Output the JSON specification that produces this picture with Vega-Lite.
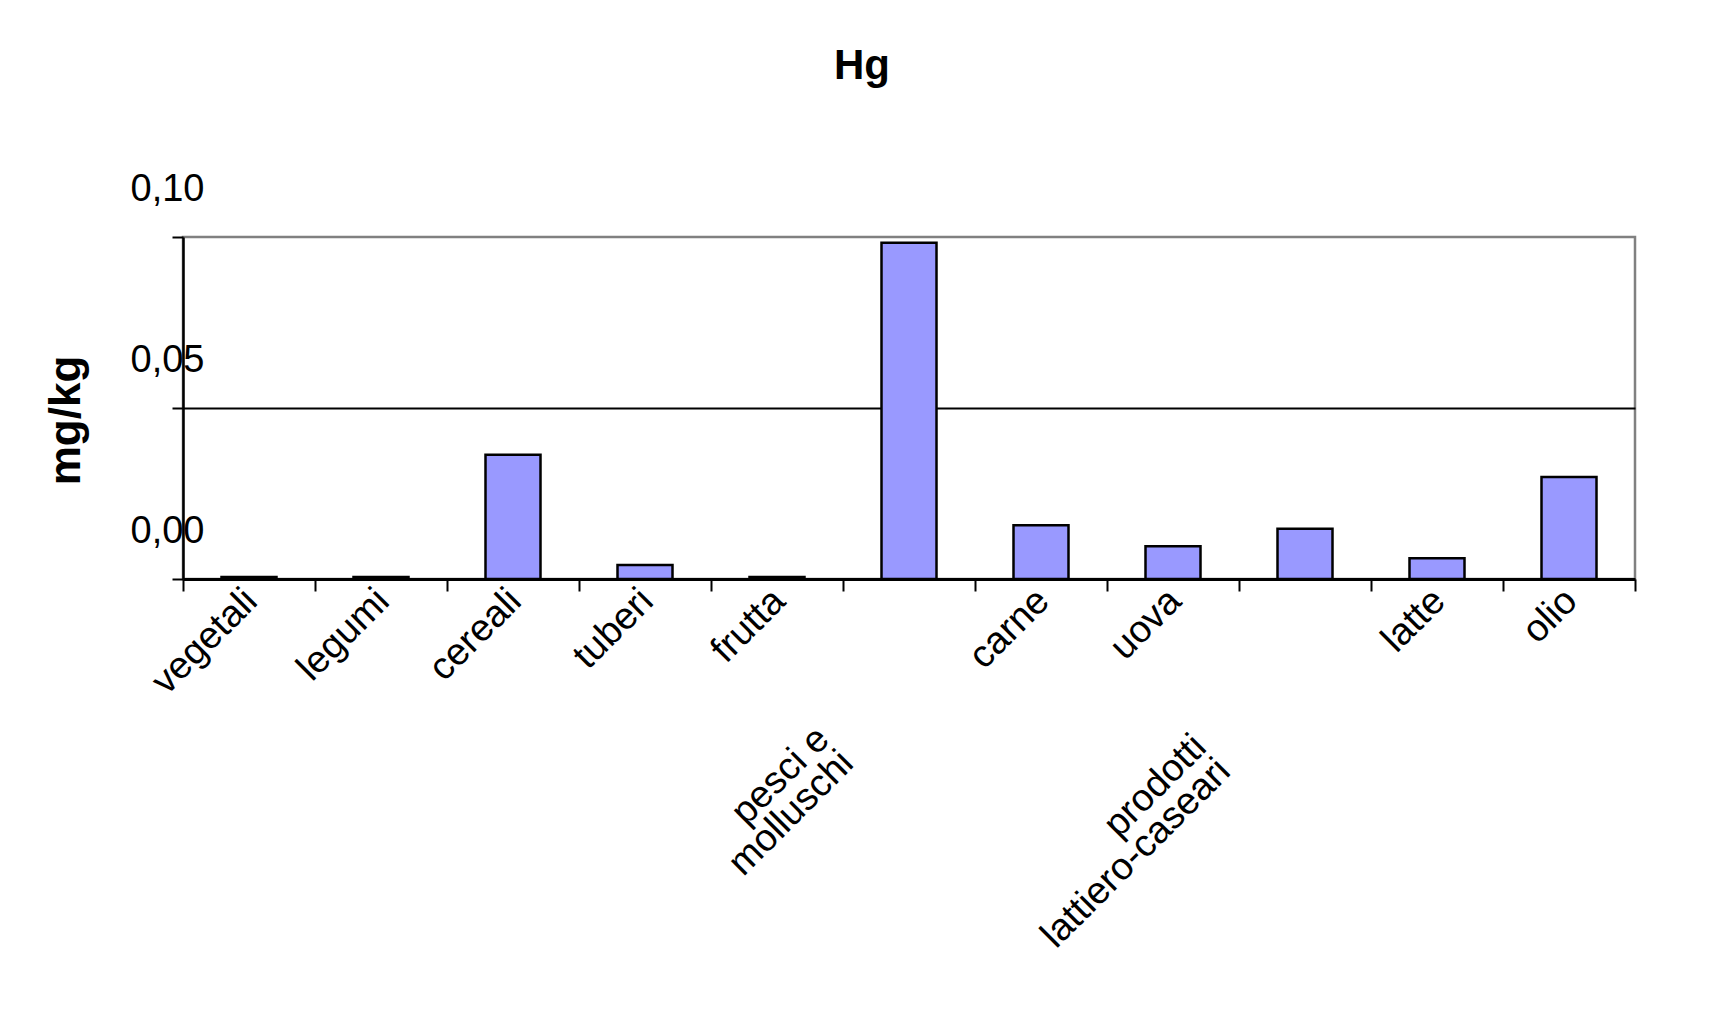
{
  "$schema": "https://vega.github.io/schema/vega-lite/v6.json",
  "autosize": {"type": "none"},
  "width": 1452,
  "height": 342,
  "padding": {"left": 183, "top": 237, "right": 88, "bottom": 433},
  "background": "#ffffff",
  "title": {
    "text": "Hg",
    "font": "Liberation Sans",
    "fontSize": 42,
    "fontWeight": "bold",
    "color": "#000000",
    "frame": "group",
    "anchor": "middle",
    "dx": -47,
    "offset": 82
  },
  "data": {
    "values": [
      {"categoria": "vegetali", "Hg": 0.0006},
      {"categoria": "legumi", "Hg": 0.0006},
      {"categoria": "cereali", "Hg": 0.0363},
      {"categoria": "tuberi", "Hg": 0.0041},
      {"categoria": "frutta", "Hg": 0.0006},
      {"categoria": "pesci e molluschi", "Hg": 0.0983},
      {"categoria": "carne", "Hg": 0.0157},
      {"categoria": "uova", "Hg": 0.0096},
      {"categoria": "prodotti lattiero-caseari", "Hg": 0.0147},
      {"categoria": "latte", "Hg": 0.0061},
      {"categoria": "olio", "Hg": 0.0298}
    ]
  },
  "mark": {"type": "bar", "fill": "#9999FF", "stroke": "#000000", "strokeWidth": 2.5, "size": 55},
  "encoding": {
    "x": {
      "field": "categoria",
      "type": "nominal",
      "sort": null,
      "scale": {"paddingInner": 0, "paddingOuter": 0},
      "axis": {
        "title": null,
        "domainColor": "#000000",
        "domainWidth": 3,
        "tickBand": "extent",
        "tickColor": "#000000",
        "tickWidth": 2,
        "tickSize": 12,
        "labelAngle": -45,
        "labelAlign": "right",
        "labelBaseline": "middle",
        "labelFont": "Liberation Sans",
        "labelFontSize": 38,
        "labelColor": "#000000",
        "labelLineHeight": 34,
        "labelOverlap": false,
        "labelBound": false,
        "labelLimit": 0,
        "labelExpr": "datum.value == 'pesci e molluschi' ? ['pesci e', 'molluschi'] : (datum.value == 'prodotti lattiero-caseari' ? ['prodotti', 'lattiero-caseari'] : datum.value)",
        "labelOffset": {
          "condition": [
            {"test": "datum.value == 'pesci e molluschi'", "value": -86},
            {"test": "datum.value == 'prodotti lattiero-caseari'", "value": -105}
          ],
          "value": 2
        },
        "labelPadding": {
          "condition": [
            {"test": "datum.value == 'pesci e molluschi'", "value": 142},
            {"test": "datum.value == 'prodotti lattiero-caseari'", "value": 150}
          ],
          "value": 4
        }
      }
    },
    "y": {
      "field": "Hg",
      "type": "quantitative",
      "scale": {"domain": [0, 0.1], "nice": false, "zero": true},
      "axis": {
        "title": "mg/kg",
        "titleFont": "Liberation Sans",
        "titleFontSize": 44,
        "titleFontWeight": "bold",
        "titleColor": "#000000",
        "titleX": -117,
        "titleY": 183,
        "titleAlign": "center",
        "titleBaseline": "middle",
        "titleAngle": -90,
        "values": [0, 0.05, 0.1],
        "domainColor": "#000000",
        "domainWidth": 2.5,
        "tickColor": "#000000",
        "tickWidth": 2,
        "tickSize": 11,
        "labelFont": "Liberation Sans",
        "labelFontSize": 38,
        "labelColor": "#000000",
        "labelAlign": "left",
        "labelBaseline": "middle",
        "labelPadding": 42,
        "labelOffset": -48,
        "labelFlush": false,
        "labelOverlap": false,
        "labelBound": false,
        "labelExpr": "replace(format(datum.value, '.2f'), '.', ',')",
        "grid": true,
        "gridColor": {
          "condition": {"test": "abs(datum.value - 0.05) < 0.001", "value": "#000000"},
          "value": "transparent"
        },
        "gridWidth": 2
      }
    }
  },
  "config": {
    "view": {"stroke": "#808080", "strokeWidth": 2.5, "fill": "#ffffff"}
  }
}
